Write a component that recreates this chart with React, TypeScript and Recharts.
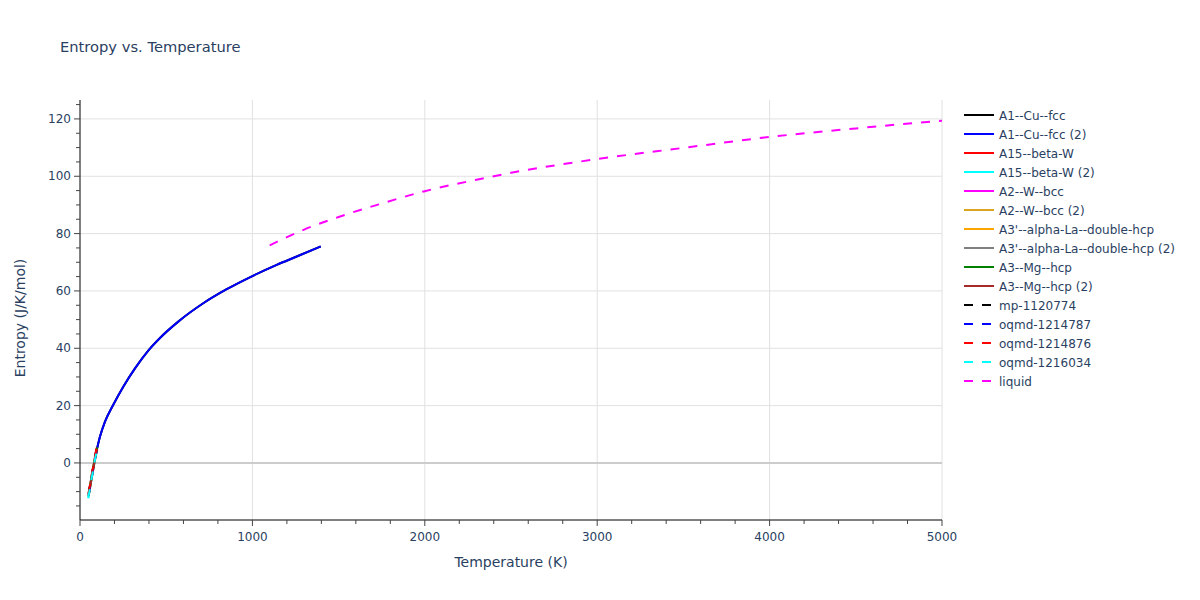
import React from "react";
import { LineChart, Line, XAxis, YAxis, ReferenceLine, Legend, Label } from "recharts";

const FONT = '"DejaVu Sans", Verdana, sans-serif';
const INK = "#2a3f5f";

// values
const cuFccT = [93, 116, 145, 193, 251, 319, 396, 464, 570, 715, 851, 1000, 1141, 1257, 1396];
const cuFccS = [3.4, 9.2, 14.4, 20.3, 26.6, 33, 39.2, 43.6, 49.3, 55.7, 60.6, 65.2, 69.1, 72, 75.5];

const betaWT = [52, 62, 72, 82, 92, 97];
const betaWS = [-10, -6.6, -3.1, 0.3, 3.6, 5.3];
const betaW2T = [48, 58, 68, 78, 88, 98];
const betaW2S = [-12.3, -8.8, -5.3, -1.8, 1.5, 4.2];

const bccT = [50, 60, 70, 80, 90, 96];
const bccS = [-10.8, -7.3, -3.8, -0.4, 2.9, 4.9];
const bcc2S = [-11.2, -7.7, -4.2, -0.8, 2.5, 4.5];

const dhcpT = [50, 60, 70, 80, 90, 98];
const dhcpS = [-11, -7.5, -4, -0.6, 2.7, 5.1];
const dhcp2S = [-11.4, -7.9, -4.4, -1, 2.3, 4.8];

const hcpT = [50, 60, 70, 80, 90, 100];
const hcpS = [-11, -7.5, -4, -0.6, 2.6, 5.4];
const hcp2S = [-11.6, -8.1, -4.6, -1.2, 2, 4.8];

const mpT = [50, 60, 70, 80, 90, 97];
const mpS = [-10.6, -7.1, -3.6, -0.2, 3.1, 5.3];
const oqmd787S = [-11.3, -7.8, -4.3, -0.9, 2.4, 4.7];
const oqmd876T = [50, 60, 70, 80, 90, 97];
const oqmd876S = [-10.5, -7, -3.5, -0.1, 3.2, 5.5];
const oqmd034T = [48, 58, 68, 78, 88, 98];
const oqmd034S = [-12.2, -8.7, -5.2, -1.7, 1.6, 4.3];

const liquidT = [1100, 1300, 1500, 1750, 2000, 2300, 2500, 3000, 3500, 4000, 4500, 5000];
const liquidS = [75.9, 81.4, 85.8, 90.5, 94.8, 98.8, 101.2, 106, 109.9, 113.7, 116.7, 119.4];

const xTicks = Array.from({ length: 26 }, (_, i) => i * 200);
const xLabels = [0, 1000, 2000, 3000, 4000, 5000];
const yTicks = Array.from({ length: 29 }, (_, i) => -15 + i * 5);
const yLabels = [0, 20, 40, 60, 80, 100, 120];

type Series = { name: string; color: string; dashed?: boolean; T: number[]; S: number[] };

const series: Series[] = [
  { name: "A1--Cu--fcc", color: "black", T: cuFccT, S: cuFccS },
  { name: "A1--Cu--fcc (2)", color: "blue", T: cuFccT, S: cuFccS },
  { name: "A15--beta-W", color: "red", T: betaWT, S: betaWS },
  { name: "A15--beta-W (2)", color: "cyan", T: betaW2T, S: betaW2S },
  { name: "A2--W--bcc", color: "magenta", T: bccT, S: bccS },
  { name: "A2--W--bcc (2)", color: "goldenrod", T: bccT, S: bcc2S },
  { name: "A3'--alpha-La--double-hcp", color: "orange", T: dhcpT, S: dhcpS },
  { name: "A3'--alpha-La--double-hcp (2)", color: "grey", T: dhcpT, S: dhcp2S },
  { name: "A3--Mg--hcp", color: "green", T: hcpT, S: hcpS },
  { name: "A3--Mg--hcp (2)", color: "brown", T: hcpT, S: hcp2S },
  { name: "mp-1120774", color: "black", dashed: true, T: mpT, S: mpS },
  { name: "oqmd-1214787", color: "blue", dashed: true, T: mpT, S: oqmd787S },
  { name: "oqmd-1214876", color: "red", dashed: true, T: oqmd876T, S: oqmd876S },
  { name: "oqmd-1216034", color: "cyan", dashed: true, T: oqmd034T, S: oqmd034S },
  { name: "liquid", color: "magenta", dashed: true, T: liquidT, S: liquidS },
];

const toRows = (T: number[], S: number[]) => T.map((t, i) => ({ T: t, S: S[i] }));

const XTick = (props: any) => {
  const { x, y, payload } = props;
  const major = xLabels.includes(payload.value);
  return (
    <g>
      <line x1={x} x2={x} y1={y} y2={y + (major ? 6 : 4)} stroke="#444" />
      {major && (
        <text x={x} y={y + 21} textAnchor="middle" fontSize={12} fill={INK} fontFamily={FONT}>
          {payload.value}
        </text>
      )}
    </g>
  );
};

const YTick = (props: any) => {
  const { x, y, payload } = props;
  const major = yLabels.includes(payload.value);
  return (
    <g>
      <line x1={x} x2={x - (major ? 6 : 4)} y1={y} y2={y} stroke="#444" />
      {major && (
        <text x={x - 9} y={y + 4} textAnchor="end" fontSize={12} fill={INK} fontFamily={FONT}>
          {payload.value}
        </text>
      )}
    </g>
  );
};

const LegendBox = () => (
  <svg width={240} height={300}>
    {series.map((s, i) => (
      <g key={s.name} transform={`translate(0, ${15 + i * 19})`}>
        <line x1={4} x2={34} y1={0} y2={0} stroke={s.color} strokeWidth={2} strokeDasharray={s.dashed ? "9 9" : undefined} />
        <text x={39} y={4.5} fontSize={12} fill={INK} fontFamily={FONT}>
          {s.name}
        </text>
      </g>
    ))}
  </svg>
);

export default function App() {
  return (
    <div style={{ position: "absolute", left: 0, top: 0, width: 1200, height: 600, background: "#fff" }}>
      <LineChart width={1200} height={600} margin={{ top: 100, right: 258, bottom: 0, left: 0 }} style={{ fontFamily: FONT }}>
        <text x={60} y={52} fontSize={14.7} fill={INK} fontFamily={FONT}>
          Entropy vs. Temperature
        </text>
        {xLabels
          .filter((v) => v !== 0)
          .map((v) => (
            <ReferenceLine key={`gx${v}`} x={v} stroke="#e1e1e1" zIndex={-60} />
          ))}
        {yLabels
          .filter((v) => v !== 0)
          .map((v) => (
            <ReferenceLine key={`gy${v}`} y={v} stroke="#e1e1e1" zIndex={-60} />
          ))}
        <ReferenceLine y={0} stroke="#cccccc" strokeWidth={2} zIndex={-50} />
        <XAxis
          type="number"
          dataKey="T"
          domain={[0, 5000]}
          allowDataOverflow
          ticks={xTicks}
          interval={0}
          tickSize={0}
          tickMargin={0}
          tickLine={false}
          tick={<XTick />}
          axisLine={{ stroke: "#000" }}
          height={80}
        >
          <Label
            content={({ viewBox }: any) => (
              <text x={viewBox.x + viewBox.width / 2} y={viewBox.y + 47} textAnchor="middle" fontSize={14} fill={INK} fontFamily={FONT}>
                Temperature (K)
              </text>
            )}
          />
        </XAxis>
        <YAxis
          type="number"
          domain={[-19.9, 126.6]}
          allowDataOverflow
          ticks={yTicks}
          interval={0}
          tickSize={0}
          tickMargin={0}
          tickLine={false}
          tick={<YTick />}
          axisLine={{ stroke: "#000" }}
          width={80}
        >
          <Label
            content={({ viewBox }: any) => {
              const cx = viewBox.x + 25;
              const cy = viewBox.y + viewBox.height / 2 + 8;
              return (
                <text x={cx} y={cy} transform={`rotate(-90 ${cx} ${cy})`} textAnchor="middle" fontSize={14} fill={INK} fontFamily={FONT}>
                  Entropy (J/K/mol)
                </text>
              );
            }}
          />
        </YAxis>
        {series.map((s) => (
          <Line
            key={s.name}
            data={toRows(s.T, s.S)}
            dataKey="S"
            name={s.name}
            type={s.T.length > 8 ? "monotone" : "linear"}
            stroke={s.color}
            strokeWidth={2}
            strokeDasharray={s.dashed ? "9 9" : undefined}
            dot={false}
            activeDot={false}
            isAnimationActive={false}
          />
        ))}
        <Legend
          layout="vertical"
          align="center"
          verticalAlign="middle"
          wrapperStyle={{ left: 960, top: 100, width: 240, height: 300 }}
          content={<LegendBox />}
        />
      </LineChart>
    </div>
  );
}
